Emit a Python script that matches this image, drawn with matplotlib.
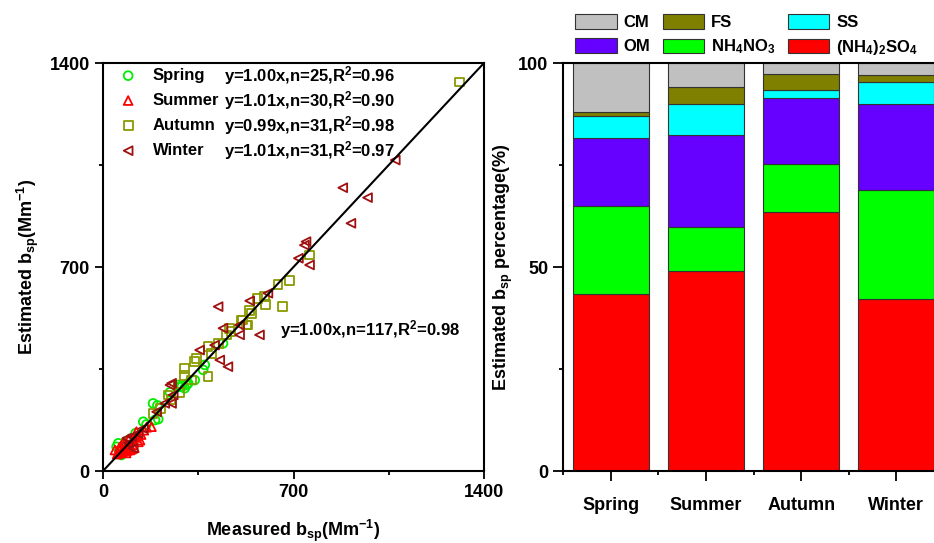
import numpy as np
import matplotlib
matplotlib.use('Agg')
import matplotlib.pyplot as plt

plt.rcParams['font.family'] = ['Liberation Sans', 'DejaVu Sans']
plt.rcParams['font.weight'] = 'bold'
plt.rcParams['axes.labelweight'] = 'bold'
plt.rcParams['mathtext.fontset'] = 'custom'
plt.rcParams['mathtext.rm'] = 'Liberation Sans:bold'
plt.rcParams['mathtext.bf'] = 'Liberation Sans:bold'
plt.rcParams['mathtext.it'] = 'Liberation Sans:bold'
plt.rcParams['mathtext.default'] = 'bf'

# scatter data (measured, estimated)
spring_x = [56, 50, 68, 60, 80, 148, 160, 191, 203, 184, 200, 246, 276, 290, 307,
            282, 300, 313, 337, 368, 374, 441, 120, 100, 90]
spring_y = [95, 83, 55, 70, 88, 169, 160, 175, 178, 232, 225, 270, 295, 290, 295,
            289, 284, 301, 312, 347, 364, 438, 130, 110, 80]
summer_x = [44, 62, 81, 99, 56, 111, 136, 123, 178, 70, 90, 75, 85, 100, 120,
            130, 65, 95, 110, 140, 60, 105, 150, 80, 115, 52, 72, 88, 125, 160]
summer_y = [72, 72, 78, 72, 61, 101, 106, 135, 152, 65, 90, 100, 62, 85, 115,
            100, 85, 110, 90, 125, 80, 75, 140, 95, 80, 58, 68, 70, 120, 150]
autumn_x = [1311, 759, 685, 643, 594, 569, 659, 597, 539, 514, 527, 508, 533, 465, 453,
            423, 386, 398, 343, 337, 386, 300, 300, 325, 239, 184, 212, 250, 280, 470, 545]
autumn_y = [1335, 741, 653, 640, 598, 592, 564, 570, 552, 518, 501, 518, 501, 490, 467,
            438, 426, 404, 387, 375, 324, 352, 329, 312, 261, 198, 215, 245, 270, 480, 540]
winter_x = [1074, 881, 972, 911, 746, 740, 718, 759, 606, 539, 502, 423, 441, 502, 575,
            410, 355, 429, 459, 252, 258, 246, 252, 227, 197, 148, 129, 105, 87, 93, 111]
winter_y = [1067, 972, 938, 850, 787, 775, 730, 707, 610, 584, 501, 564, 490, 467, 467,
            432, 415, 381, 358, 301, 261, 295, 232, 232, 203, 146, 129, 118, 112, 95, 78]

seasons = ['Spring', 'Summer', 'Autumn', 'Winter']
fits = ['y=1.00x,n=25,R$^2$=0.96', 'y=1.01x,n=30,R$^2$=0.90',
        'y=0.99x,n=31,R$^2$=0.98', 'y=1.01x,n=31,R$^2$=0.97']

# stacked percentages, bottom to top
sulfate = [43.3, 49.1, 63.4, 42.2]
nitrate = [21.7, 10.8, 11.8, 26.7]
om = [16.7, 22.5, 16.1, 21.1]
ss = [5.4, 7.5, 2.2, 5.3]
fs = [1.0, 4.1, 3.8, 1.8]
cm = [11.9, 6.0, 2.7, 2.9]

fig = plt.figure(figsize=(9.34, 5.43), dpi=100)
ax1 = fig.add_axes([103/934, 72/543, 381/934, 408/543])
ax2 = fig.add_axes([563/934, 72/543, 381/934, 408/543])

# ---- left: scatter ----
styles = [
    (spring_x, spring_y, 'o', '#00ee00'),
    (summer_x, summer_y, '^', '#ff0000'),
    (autumn_x, autumn_y, 's', '#8a9a00'),
    (winter_x, winter_y, '<', '#a01010'),
]
for xs, ys, m, c in styles:
    ax1.scatter(xs, ys, marker=m, s=40, facecolors='none', edgecolors=c, linewidths=1.3, zorder=3)
ax1.plot([0, 1400], [0, 1400], color='black', lw=1.5, zorder=4)

ax1.set_xlim(0, 1400)
ax1.set_ylim(0, 1400)
ax1.set_xticks([0, 700, 1400])
ax1.set_yticks([0, 700, 1400])
ax1.set_xticks([350, 1050], minor=True)
ax1.set_yticks([350, 1050], minor=True)
ax1.tick_params(which='major', direction='out', length=6, width=1.3, labelsize=13)
ax1.tick_params(which='minor', direction='out', length=3, width=1.3)
for sp in ax1.spines.values():
    sp.set_linewidth(1.5)
ax1.set_xlabel('Measured b$_{sp}$(Mm$^{-1}$)', fontsize=13, labelpad=12)
ax1.set_ylabel('Estimated b$_{sp}$(Mm$^{-1}$)', fontsize=13, labelpad=6)

# legend rows drawn by hand
rows_y = [0.969, 0.908, 0.846, 0.785]
for (xs, ys, m, c), name, fit, yy in zip(styles, seasons, fits, rows_y):
    ax1.scatter([0.066], [yy], marker=m, s=40, facecolors='none', edgecolors=c,
                linewidths=1.3, transform=ax1.transAxes, zorder=5)
    ax1.text(0.131, yy, name, transform=ax1.transAxes, fontsize=12, va='center')
    ax1.text(0.318, yy, fit, transform=ax1.transAxes, fontsize=12, va='center')
ax1.text(649, 484, 'y=1.00x,n=117,R$^2$=0.98', fontsize=12, va='center')

# ---- right: stacked bars ----
pos = np.arange(1, 5)
layers = [
    (sulfate, '#ff0000', '(NH$_4$)$_2$SO$_4$'),
    (nitrate, '#00ff00', 'NH$_4$NO$_3$'),
    (om, '#6600ff', 'OM'),
    (ss, '#00ffff', 'SS'),
    (fs, '#808000', 'FS'),
    (cm, '#c0c0c0', 'CM'),
]
bottom = np.zeros(4)
handles = {}
for vals, col, lab in layers:
    b = ax2.bar(pos, vals, width=0.8, bottom=bottom, color=col, edgecolor='#333333',
                linewidth=0.8, label=lab)
    handles[lab] = b
    bottom += np.array(vals)

ax2.set_xlim(0.5, 4.5)
ax2.set_ylim(0, 100)
ax2.set_xticks(pos)
ax2.set_xticklabels(seasons)
ax2.set_xticks([0.5, 1.5, 2.5, 3.5, 4.5], minor=True)
ax2.set_yticks([0, 50, 100])
ax2.set_yticks([25, 75], minor=True)
ax2.tick_params(which='major', direction='out', length=7, width=1.3, labelsize=13)
ax2.tick_params(axis='x', which='major', pad=12)
ax2.tick_params(which='minor', direction='out', length=3, width=1.3)
for sp in ax2.spines.values():
    sp.set_linewidth(1.5)
ax2.set_ylabel('Estimated b$_{sp}$ percentage(%)', fontsize=13, labelpad=2)

order = ['CM', 'OM', 'FS', 'NH$_4$NO$_3$', 'SS', '(NH$_4$)$_2$SO$_4$']
fig.legend([handles[k] for k in order], order, ncol=3, loc='upper left',
           bbox_to_anchor=(575/934, 1 - 14/543), frameon=False, fontsize=12,
           handlelength=2.5, handleheight=1.0, handletextpad=0.4,
           columnspacing=0.75, labelspacing=0.45, borderpad=0, borderaxespad=0)

fig.savefig('out.png', dpi=100)
